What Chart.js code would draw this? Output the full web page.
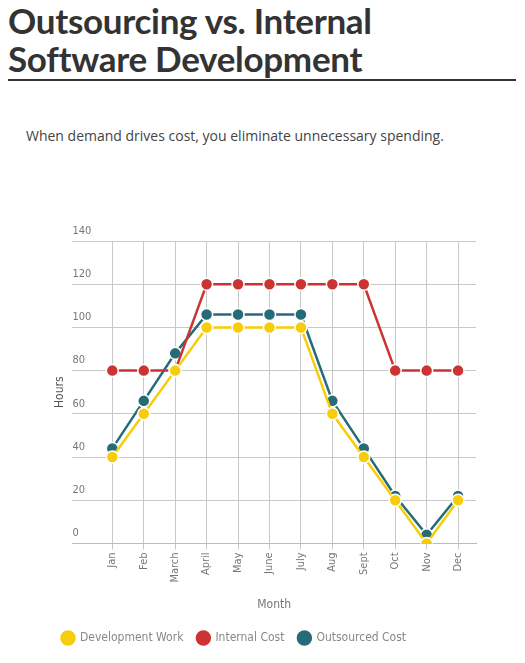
<!DOCTYPE html>
<html><head><meta charset="utf-8">
<script src="https://cdn.jsdelivr.net/npm/chart.js@4"></script>
<style>
body{margin:0;background:#fff;width:525px;height:663px;overflow:hidden;font-family:"Open Sans",sans-serif}
h1{margin:0;position:absolute;left:8px;top:1px;width:508px;font:bold 35px/38px "Lato","Open Sans",sans-serif;color:#333;border-bottom:2px solid #333;padding-bottom:2px;letter-spacing:-0.3px}
p{position:absolute;left:26px;top:126px;margin:0;font-size:14px;color:#444}
#w{position:absolute;left:0;top:222px;width:525px;height:432px}
</style></head><body>
<h1>Outsourcing vs. Internal<br>Software Development</h1>
<p>When demand drives cost, you eliminate unnecessary spending.</p>
<div id="w"><canvas id="c"></canvas></div>
<script>
const months=["Jan","Feb","March","April","May","June","July","Aug","Sept","Oct","Nov","Dec"];
const devWork=[40,60,80,100,100,100,100,60,40,20,0,20];
const internalCost=[80,80,80,120,120,120,120,120,120,80,80,80];
const outsourcedCost=[44,66,88,106,106,106,106,66,44,22,4,22];
const yTicks=[0,20,40,60,80,100,120,140];
const pts=a=>a.map((v,i)=>({x:i,y:v}));
const ds=(l,d,c)=>({label:l,data:pts(d),borderColor:c,backgroundColor:c,pointBorderColor:'#fff',pointBorderWidth:1.5,pointRadius:6,pointHoverRadius:6,borderWidth:2.5,tension:0});
const f={family:'"DejaVu Sans Condensed","DejaVu Sans",sans-serif',size:11};
new Chart(document.getElementById('c'),{type:'line',
data:{datasets:[ds('Development Work',devWork,'#f7cc0a'),ds('Internal Cost',internalCost,'#cc3333'),ds('Outsourced Cost',outsourcedCost,'#266b78')]},
options:{responsive:true,maintainAspectRatio:false,animation:false,
layout:{padding:{left:48,right:49,top:19,bottom:0}},
plugins:{legend:{position:'bottom',align:'start',labels:{usePointStyle:true,pointStyle:'circle',boxWidth:14,boxHeight:14,padding:14,color:'#888',font:{family:'"DejaVu Sans Condensed",sans-serif',size:12}}},tooltip:{enabled:false}},
scales:{
x:{type:'linear',min:-1.27,max:11.57,afterBuildTicks:s=>{s.ticks=months.map((m,i)=>({value:i}))},
ticks:{callback:v=>months[v],maxRotation:90,minRotation:90,color:'#777',font:f,autoSkip:false},
grid:{color:'#c8c8c8',drawTicks:true,tickLength:6},border:{color:'#bbb'},
title:{display:true,text:'Month',color:'#777',font:{...f,size:12},padding:{top:12,bottom:6}}},
y:{min:0,max:140,afterBuildTicks:s=>{s.ticks=yTicks.map(v=>({value:v}))},
ticks:{mirror:true,labelOffset:-10,padding:0,color:'#777',font:f},
grid:{color:'#c8c8c8',drawTicks:false},border:{display:false},
title:{display:true,text:'Hours',color:'#555',font:{...f,size:12},padding:5}}
}}});
</script></body></html>
